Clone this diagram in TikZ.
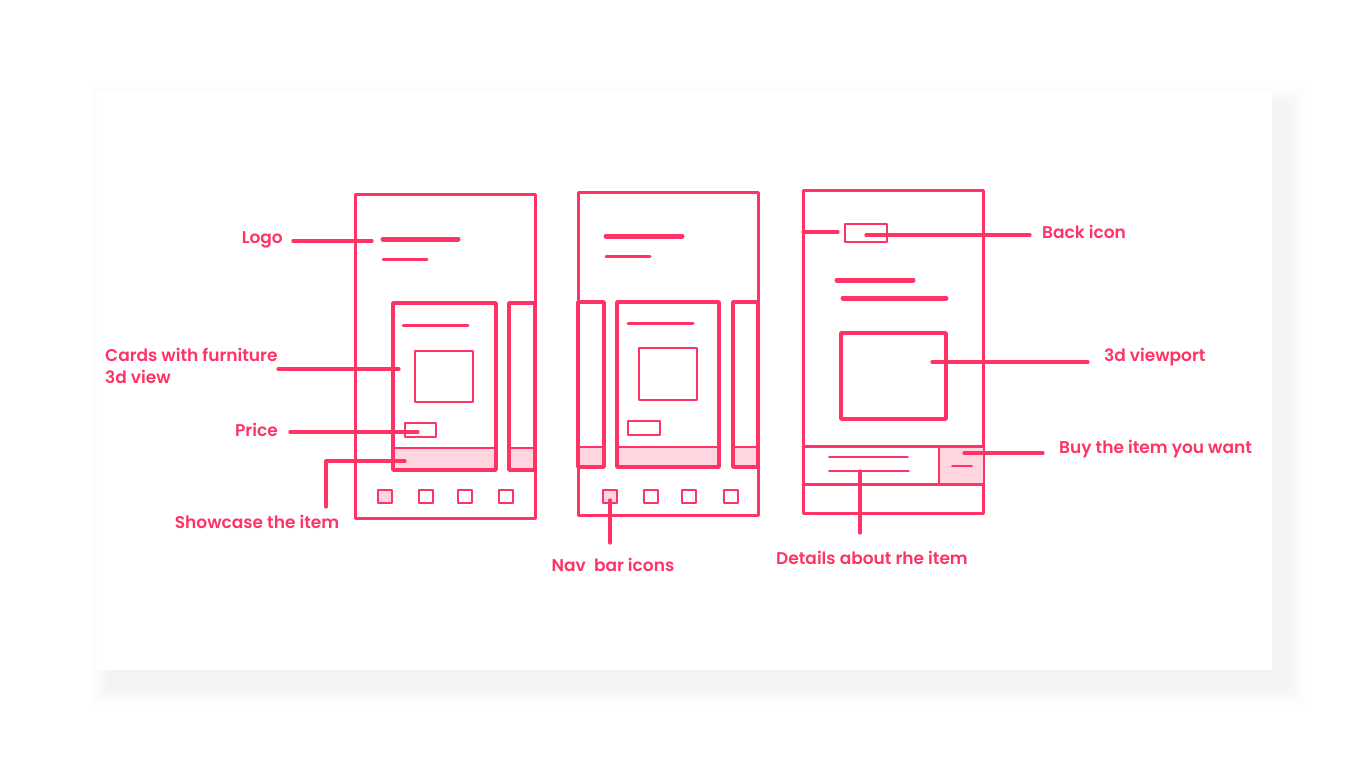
\documentclass[tikz,border=0pt]{standalone}
\usepackage{fontspec}
\setmainfont{Poppins}[UprightFont=* SemiBold]
\definecolor{ink}{HTML}{FF3366}
\definecolor{tint}{HTML}{FFD6E0}
\begin{document}
\begin{tikzpicture}[x=1pt,y=-1pt, line join=round, line cap=round,
  frame/.style={draw=ink, line width=3pt},
  cardbox/.style={draw=ink, line width=3.8pt},
  thin/.style={draw=ink, line width=1.8pt},
  bar/.style={draw=ink, line width=5pt},
  rule/.style={draw=ink, line width=3pt},
  lbl/.style={draw=ink, line width=3.2pt},
  tag/.style={text=ink, inner sep=0pt, font=\fontsize{17}{22}\selectfont},
]
\useasboundingbox (0,0) rectangle (1366,771);
\fill[white] (0,0) rectangle (1366,771);
% soft drop shadow under the sheet, cast towards the lower right
\foreach \i in {1,...,12}
  \fill[black, opacity=0.005] (111-\i*1.6, 106-\i*1.6) rectangle (1286+\i*1.6, 686+\i*1.6);
\fill[white] (97,92) rectangle (1272,670);

% ---------- screen 1: home ----------
\draw[frame] (355,194) rectangle (535,518);
\draw[bar] (383,239) -- (458,239);
\draw[rule] (383,259) -- (427,259);
% main card
\fill[tint] (393,448) rectangle (496,470);
\draw[thin] (393,448) -- (496,448);
\draw[cardbox] (393,303) rectangle (496,470);
\draw[rule] (403,325) -- (468,325);
\draw[thin] (415,351) rectangle (473,402);
\draw[thin] (405,423) rectangle (436,437);
% next card peeking in
\fill[tint] (509,448) rectangle (535,470);
\draw[thin] (509,448) -- (535,448);
\draw[cardbox] (509,303) rectangle (535,470);
% nav bar
\fill[tint] (378,490) rectangle (392,503);
\foreach \x in {378,419,458,499} \draw[thin] (\x,490) rectangle (\x+14,503);

% ---------- screen 2: carousel ----------
\draw[frame] (578,192) rectangle (758,515);
\draw[bar] (606,236) -- (682,236);
\draw[rule] (606,256) -- (650,256);
\fill[tint] (578,447) rectangle (604,467);
\draw[thin] (578,447) -- (604,447);
\draw[cardbox] (578,302) rectangle (604,467);
\fill[tint] (617,447) rectangle (719,467);
\draw[thin] (617,447) -- (719,447);
\draw[cardbox] (617,302) rectangle (719,467);
\draw[rule] (628,323) -- (693,323);
\draw[thin] (639,348) rectangle (697,400);
\draw[thin] (628,421) rectangle (660,435);
\fill[tint] (733,447) rectangle (758,467);
\draw[thin] (733,447) -- (758,447);
\draw[cardbox] (733,302) rectangle (758,467);
\fill[tint] (603,490) rectangle (617,503);
\foreach \x in {603,644,682,724} \draw[thin] (\x,490) rectangle (\x+14,503);

% ---------- screen 3: item detail ----------
\draw[frame] (803,190) rectangle (983,513);
\draw[thin] (845,224) rectangle (887,242);
\draw[bar] (837,280) -- (913,280);
\draw[bar] (843,298) -- (946,298);
\draw[cardbox] (841,333) rectangle (946,419);
\fill[tint] (939,446) rectangle (983,484);
\draw[frame] (803,446) -- (983,446);
\draw[frame] (803,484) -- (983,484);
\draw[thin] (939,446) -- (939,484);
\draw[thin] (952,466) -- (972,466);
\draw[thin] (829,457) -- (908,457);
\draw[thin] (829,471) -- (909,471);

% ---------- annotations ----------
\node[tag, anchor=east] (logo) at (283,240) {Logo};
\coordinate (logoA) at (293,241); \coordinate (logoB) at (372,241);
\draw[lbl] (logoA) -- (logoB);

\node[tag, anchor=north west, align=left] (cards) at (105,348) {Cards with furniture\\3d view};
\coordinate (cardsA) at (278,369); \coordinate (cardsB) at (399,369);
\draw[lbl] (cardsA) -- (cardsB);

\node[tag, anchor=east] (price) at (278,430) {Price};
\coordinate (priceA) at (290,432); \coordinate (priceB) at (418,432);
\draw[lbl] (priceA) -- (priceB);

\node[tag] (show) at (257,522) {Showcase the item};
\coordinate (showA) at (326,507); \coordinate (showB) at (405,461);
\draw[lbl] (showA) |- (showB);

\node[tag] (nav) at (613,565) {Nav~ bar icons};
\coordinate (navA) at (610,543); \coordinate (navB) at (610,500);
\draw[lbl] (navA) -- (navB);

\node[tag] (details) at (872,558) {Details about rhe item};
\coordinate (detA) at (860,533); \coordinate (detB) at (860,471);
\draw[lbl] (detA) -- (detB);

\node[tag, anchor=west] (back) at (1042,232) {Back icon};
\coordinate (backA) at (1030,235); \coordinate (backB) at (866,235);
\draw[lbl] (backA) -- (backB);
\coordinate (backC) at (803,232); \coordinate (backD) at (838,232);
\draw[lbl] (backC) -- (backD);

\node[tag, anchor=west] (view) at (1104,357) {3d viewport};
\coordinate (viewA) at (1088,362); \coordinate (viewB) at (932,362);
\draw[lbl] (viewA) -- (viewB);

\node[tag, anchor=west] (buy) at (1059,449) {Buy the item you want};
\coordinate (buyA) at (1043,453); \coordinate (buyB) at (964,453);
\draw[lbl] (buyA) -- (buyB);
\end{tikzpicture}
\end{document}
